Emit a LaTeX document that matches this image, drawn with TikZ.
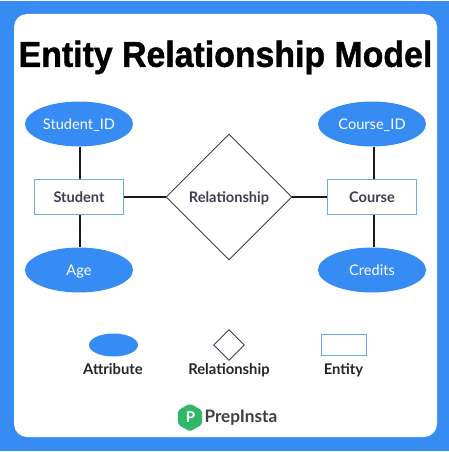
\documentclass[tikz,border=0pt]{standalone}
\usepackage{fontspec}
\setmainfont{Lato}
\newfontfamily\titlefont[FakeStretch=0.94,BoldFeatures={FakeStretch=0.94,FakeBold=1.2}]{Liberation Sans}
\usetikzlibrary{shapes,arrows}
\usetikzlibrary{positioning}
\definecolor{prepblue}{RGB}{55,140,243}
\definecolor{boxblue}{RGB}{105,170,248}
\definecolor{inkgrey}{RGB}{62,62,82}
\definecolor{prepgreen}{RGB}{46,184,104}
\tikzset{
	attrib/.style={ellipse, fill=prepblue, draw=none, inner sep=0pt, minimum width=108pt, minimum height=45pt, text=white, text height=10.5pt, text depth=0pt, font=\fontsize{14.6}{16}\selectfont},
	entity/.style={rectangle, draw=boxblue, line width=1pt, fill=white, inner sep=0pt, minimum width=89pt, minimum height=35pt, text=inkgrey, text height=10.5pt, text depth=0pt, font=\fontsize{14.6}{16}\selectfont\bfseries},
	relation/.style={diamond, draw=inkgrey, line width=0.9pt, fill=white, inner sep=0pt, minimum width=126pt, minimum height=126pt, text=inkgrey, text height=10.5pt, text depth=0pt, font=\fontsize{14.6}{16}\selectfont\bfseries},
	legendtext/.style={text=black!85, inner sep=0pt, text height=10.5pt, text depth=0pt, font=\fontsize{14.8}{16}\selectfont\bfseries},
	link/.style={line width=1.2pt, black!90}
}
\begin{document}
\begin{tikzpicture}[x=1pt,y=-1pt]

	\useasboundingbox (0,0) rectangle (449,452);
	\fill[white] (0,0) rectangle (449,452);
	\fill[prepblue] (0,1) rectangle (449,451);
	\fill[white, rounded corners=13pt] (14,14) rectangle (437,437);

	\node[font=\titlefont\fontsize{36}{40}\selectfont\bfseries, inner sep=0pt] (title) at (225.5,57.5) {Entity Relationship Model};

	% main diagram
	\node[attrib] (studentid) at (79,124) {Student\_ID};
	\node[attrib] (age) at (79,270) {Age};
	\node[attrib] (courseid) at (372,124) {Course\_ID};
	\node[attrib] (credits) at (372,270) {Credits};
	\node[entity] (student) at (79,197) {Student};
	\node[entity] (course) at (372,197) {Course};
	\node[relation] (rel) at (229,197) {Relationship};

	\draw[link]
	([xshift=1pt]studentid.south) -- ([xshift=1pt]student.north)
	([xshift=1pt]student.south) -- ([xshift=1pt]age.north)
	([xshift=2pt]courseid.south) -- ([xshift=2pt]course.north)
	([xshift=2pt]course.south) -- ([xshift=2pt]credits.north)
	(student) -- (rel)
	(rel) -- (course)
	;

	% legend
	\node[attrib, minimum width=49pt, minimum height=23pt] (keyattrib) at (113.5,345) {};
	\node[relation, minimum width=31pt, minimum height=31pt] (keyrel) at (229,345) {};
	\node[entity, minimum width=45pt, minimum height=21pt] (keyentity) at (343.5,345) {};
	\node[legendtext] (attribtext) at (113,369) {Attribute};
	\node[legendtext] (reltext) at (229,369) {Relationship};
	\node[legendtext] (entitytext) at (343.5,369) {Entity};

	% logo
	\node[regular polygon, regular polygon sides=6, shape border rotate=30, fill=prepgreen, rounded corners=2pt, minimum size=28pt, inner sep=0pt] (logo) at (190,417.5) {};
	\node[text=white, inner sep=0pt, font=\fontsize{15}{16}\selectfont\bfseries] (logop) at (190.5,417) {P};
	\node[right=2pt of logo, inner sep=0pt, text=black!75, font=\fontsize{17.2}{18}\selectfont\bfseries] (logotext) {PrepInsta};

\end{tikzpicture}
\end{document}
